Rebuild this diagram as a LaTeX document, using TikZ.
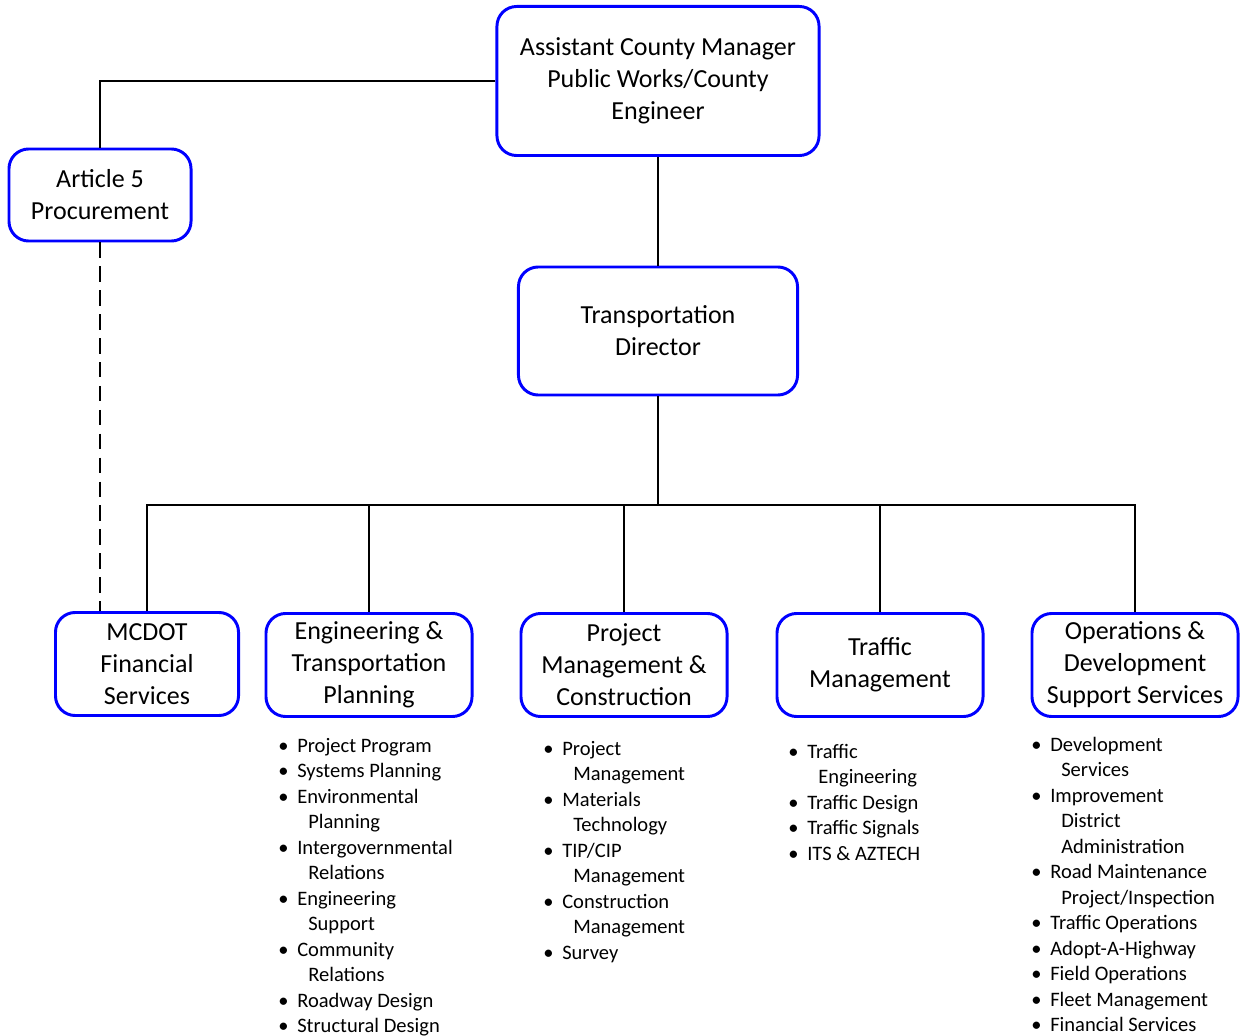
\documentclass[tikz,border=0pt]{standalone}
\usepackage{fontspec}
\setmainfont{Carlito}
\usetikzlibrary{positioning,calc}

\newcommand\itemdot{\makebox[0.475cm][l]{\textbullet}}
\newcommand\itemgap{\hspace*{0.75cm}}

\tikzset{
  unit/.style={draw=blue, line width=2.1pt, rounded corners=14pt, align=center,
    inner sep=2pt, font=\fontsize{18.5}{22.7}\selectfont},
  link/.style={line width=2pt},
  itemtext/.style={anchor=base west, inner sep=0pt, font=\fontsize{14.6}{18}\selectfont},
}

\begin{document}
\begin{tikzpicture}[x=0.025cm, y=-0.025cm]
  \useasboundingbox (0,0) rectangle (1242,1036);

  % top of the chart
  \node[unit, minimum width=8.05cm, minimum height=3.725cm] (acm) at (658,81)
    {Assistant County Manager\\Public Works/County\\Engineer};
  \node[unit, minimum width=4.55cm, minimum height=2.3cm] (art) at (100,195)
    {Article 5\\Procurement};
  \node[unit, minimum width=6.975cm, minimum height=3.2cm] (dir) at (658,331)
    {Transportation\\Director};

  % divisions
  \node[unit, minimum width=4.575cm, minimum height=2.575cm] (mcdot) at (147,664)
    {MCDOT\\Financial\\Services};
  \node[unit, minimum width=5.15cm, minimum height=2.575cm] (eng) at (369,665)
    {Engineering \&\\Transportation\\Planning};
  \node[unit, minimum width=5.15cm, minimum height=2.575cm] (pm) at (624,665)
    {Project\\Management \&\\Construction};
  \node[unit, minimum width=5.15cm, minimum height=2.575cm] (traf) at (880,665)
    {Traffic\\Management};
  \node[unit, minimum width=5.15cm, minimum height=2.575cm] (ops) at (1135,665)
    {Operations \&\\Development\\Support Services};

  \coordinate (bus) at (658,505);

  \draw[link] (acm.west) -| (art.north);
  \draw[link, dash pattern=on 11pt off 6pt] (art.south) -- (art.south |- mcdot.north);
  \draw[link] (acm) -- (dir);
  \draw[link] (dir.south) -- (bus);
  \foreach \n in {mcdot,eng,pm,traf,ops}
    \draw[link] (\n.north) |- (bus);

  % what each division does
  \foreach \t [count=\i] in {\itemdot Project Program, \itemdot Systems Planning,
      \itemdot Environmental, \itemgap Planning, \itemdot Intergovernmental,
      \itemgap Relations, \itemdot Engineering, \itemgap Support,
      \itemdot Community, \itemgap Relations, \itemdot Roadway Design,
      \itemdot Structural Design}
    \node[itemtext] (eng-\i) at (278,{752+25.5*(\i-1)}) {\t};

  \foreach \t [count=\i] in {\itemdot Project, \itemgap Management,
      \itemdot Materials, \itemgap Technology, \itemdot TIP/CIP,
      \itemgap Management, \itemdot Construction, \itemgap Management,
      \itemdot Survey}
    \node[itemtext] (pm-\i) at (543,{755+25.5*(\i-1)}) {\t};

  \foreach \t [count=\i] in {\itemdot Traffic, \itemgap Engineering,
      \itemdot Traffic Design, \itemdot Traffic Signals, \itemdot ITS \& AZTECH}
    \node[itemtext] (traf-\i) at (788,{758+25.5*(\i-1)}) {\t};

  \foreach \t [count=\i] in {\itemdot Development, \itemgap Services,
      \itemdot Improvement, \itemgap District, \itemgap Administration,
      \itemdot Road Maintenance, \itemgap Project/Inspection,
      \itemdot Traffic Operations, \itemdot Adopt-A-Highway,
      \itemdot Field Operations, \itemdot Fleet Management,
      \itemdot Financial Services}
    \node[itemtext] (ops-\i) at (1031,{751+25.5*(\i-1)}) {\t};
\end{tikzpicture}
\end{document}
